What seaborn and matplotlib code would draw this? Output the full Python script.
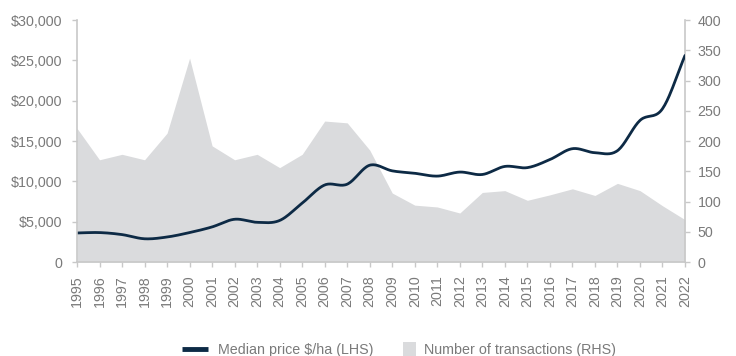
import numpy as np
import pandas as pd
import seaborn as sns
import matplotlib
matplotlib.use("Agg")
import matplotlib.pyplot as plt
from matplotlib.lines import Line2D
from matplotlib.patches import Patch, Rectangle
from matplotlib.legend_handler import HandlerPatch
from matplotlib.ticker import FuncFormatter, MultipleLocator

years = list(range(1995, 2023))
median_price = [3600, 3650, 3400, 2880, 3100, 3650, 4350, 5300, 4920, 5150,
                7300, 9550, 9650, 12000, 11300, 11000, 10650, 11150, 10850, 11850,
                11700, 12700, 14050, 13550, 13800, 17550, 19000, 25600]
transactions = [221, 169, 178, 169, 213, 337, 192, 169, 178, 156,
                178, 233, 230, 185, 114, 94, 91, 81, 115, 118,
                102, 111, 121, 110, 130, 118, 93, 70]

LINE_COLOR = "#0d2a45"
AREA_COLOR = "#dadbdd"
TEXT_COLOR = "#7a7a7a"
SPINE_COLOR = "#c8c8c8"
FONT_SIZE = 10.3

sns.set_theme(style="white")
plt.rcParams["font.family"] = ["Liberation Sans", "DejaVu Sans"]


def smooth_curve(x, y, steps=20):
    """Catmull-Rom path through the points, like a smoothed line in a spreadsheet chart."""
    x = np.asarray(x, float)
    y = np.asarray(y, float)
    px = np.concatenate([[2 * x[0] - x[1]], x, [2 * x[-1] - x[-2]]])
    py = np.concatenate([[2 * y[0] - y[1]], y, [2 * y[-1] - y[-2]]])
    xs, ys = [], []
    t = np.linspace(0, 1, steps, endpoint=False)
    for i in range(1, len(px) - 2):
        for arr, out in ((px, xs), (py, ys)):
            p0, p1, p2, p3 = arr[i - 1], arr[i], arr[i + 1], arr[i + 2]
            out.extend(0.5 * ((2 * p1) + (-p0 + p2) * t
                              + (2 * p0 - 5 * p1 + 4 * p2 - p3) * t ** 2
                              + (-p0 + 3 * p1 - 3 * p2 + p3) * t ** 3))
    xs.append(x[-1])
    ys.append(y[-1])
    return np.array(xs), np.array(ys)


def square_patch(legend, orig_handle, xdescent, ydescent, width, height, fontsize):
    # small square swatch, right-aligned in the handle box
    s = 9.4
    return Rectangle((-xdescent + width - s + 1.5, -ydescent + (height - s) / 2), s, s)


df = pd.DataFrame({"year": years, "price": median_price, "count": transactions})
sx, sy = smooth_curve(df["year"], df["price"])
smooth = pd.DataFrame({"year": sx, "price": sy})

fig = plt.figure(figsize=(7.36, 3.56), dpi=100)
ax = fig.add_axes([0.1046, 0.264, 0.8261, 0.6798])
ax2 = ax.twinx()

# transactions as a filled area on the right-hand scale
ax2.fill_between(df["year"], 0, df["count"], color=AREA_COLOR, lw=0)
ax2.set_ylim(0, 400)
ax2.yaxis.set_major_locator(MultipleLocator(50))

# median price line on the left-hand scale, drawn above the area
ax.set_zorder(ax2.get_zorder() + 1)
ax.patch.set_visible(False)
sns.lineplot(data=smooth, x="year", y="price", ax=ax, color=LINE_COLOR,
             linewidth=2.0, sort=False, estimator=None)
ax.set_ylim(0, 30000)
ax.yaxis.set_major_locator(MultipleLocator(5000))
ax.yaxis.set_major_formatter(FuncFormatter(lambda v, _: "0" if v == 0 else f"${v:,.0f}"))
ax.set_xlim(1995, 2022)
ax.set_xticks(years)
ax.set_xticklabels([str(y) for y in years], rotation=90)
ax.set_xlabel("")
ax.set_ylabel("")
ax2.set_ylabel("")

for a in (ax, ax2):
    for side in ("top", "left", "right", "bottom"):
        a.spines[side].set_visible(False)
    a.grid(False)
ax.spines["left"].set_visible(True)
ax.spines["bottom"].set_visible(True)
ax2.spines["right"].set_visible(True)
for sp in (ax.spines["left"], ax.spines["bottom"], ax2.spines["right"]):
    sp.set_color(SPINE_COLOR)
    sp.set_linewidth(1.2)

ax.tick_params(axis="both", which="major", length=3.5, width=1, color=SPINE_COLOR,
               labelcolor=TEXT_COLOR, labelsize=FONT_SIZE)
ax.tick_params(axis="x", bottom=True, pad=5.8)
ax.tick_params(axis="y", left=True, pad=7)
ax2.tick_params(axis="y", right=True, length=3.5, width=1, color=SPINE_COLOR,
                labelcolor=TEXT_COLOR, labelsize=FONT_SIZE, pad=5.5)

handles = [Line2D([0], [0], color=LINE_COLOR, lw=3.5, solid_capstyle="butt"),
           Patch(facecolor=AREA_COLOR, edgecolor="none")]
fig.legend(handles, ["Median price $/ha (LHS)", "Number of transactions (RHS)"],
           loc="center", bbox_to_anchor=(0.542, 0.017), ncol=2, frameon=False,
           fontsize=FONT_SIZE, labelcolor=TEXT_COLOR, handlelength=1.82, handleheight=0.9,
           columnspacing=1.05, handletextpad=0.7, borderpad=0, borderaxespad=0,
           handler_map={Patch: HandlerPatch(patch_func=square_patch)})

fig.savefig("out.png", dpi=100)
